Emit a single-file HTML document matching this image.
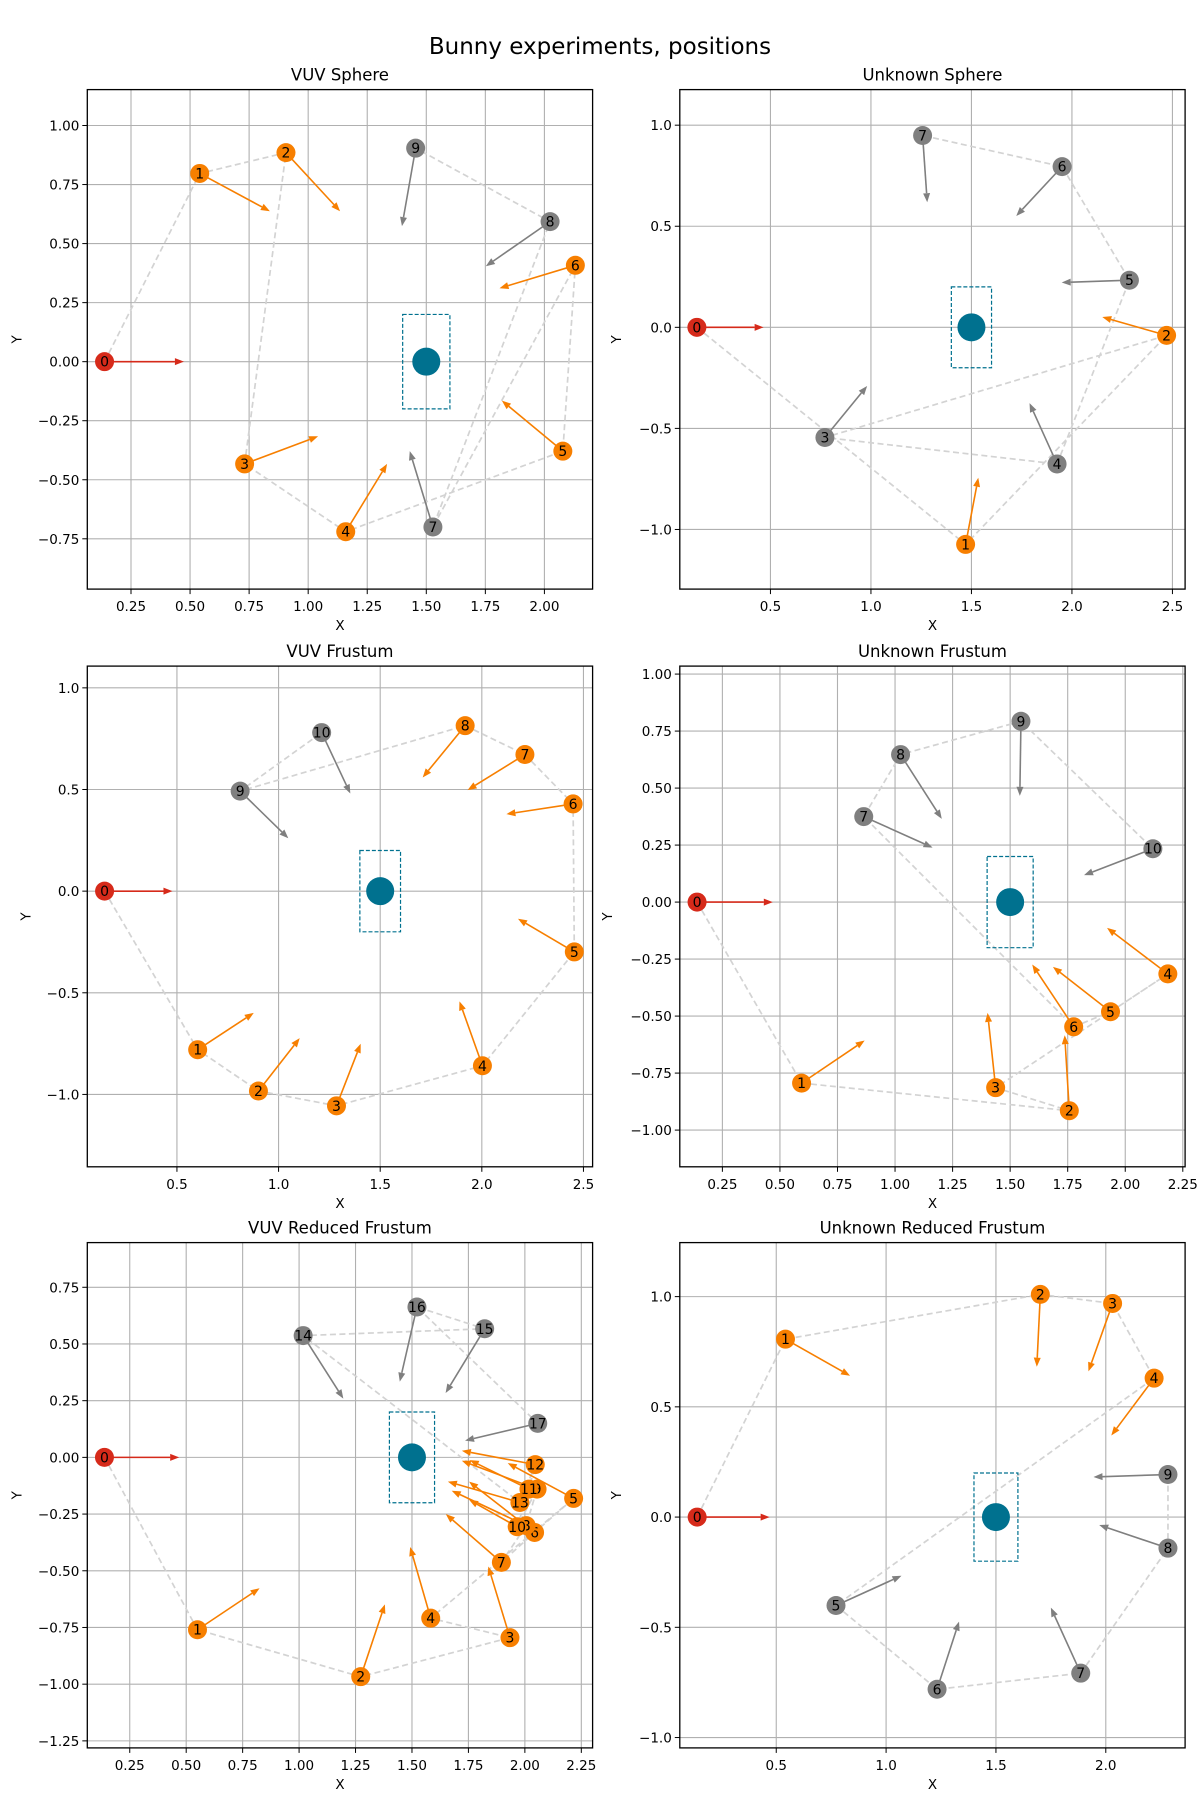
<!DOCTYPE html>
<html><head><meta charset="utf-8"><style>
html,body{margin:0;padding:0;background:#fff;}
svg{display:block;font-family:"DejaVu Sans","Liberation Sans",sans-serif;}
</style></head><body>
<svg id="fig" width="1200" height="1800" viewBox="0 0 1200 1800">
<rect width="1200" height="1800" fill="#fff"/>
<text x="600" y="54" text-anchor="middle" font-size="23">Bunny experiments, positions</text>
</svg>
<script>
// Panel 1: VUV Sphere
const p1X=[0.138,0.541,0.906,0.731,1.159,2.078,2.131,1.528,2.024,1.455];
const p1Y=[0,0.797,0.885,-0.433,-0.72,-0.379,0.408,-0.70,0.593,0.904];
const p1EX=[0.474,0.838,1.135,1.042,1.334,1.82,1.81,1.43,1.752,1.397];
const p1EY=[0,0.637,0.637,-0.316,-0.433,-0.165,0.311,-0.379,0.404,0.574];
const p1Orange=6;
// Panel 2: Unknown Sphere
const p2X=[0.134,1.471,2.471,0.771,1.926,2.286,1.951,1.257];
const p2Y=[0,-1.074,-0.04,-0.545,-0.676,0.233,0.795,0.949];
const p2EX=[0.466,1.534,2.151,0.981,1.789,1.949,1.723,1.28];
const p2EY=[0,-0.744,0.051,-0.29,-0.375,0.222,0.551,0.619];
const p2Orange=2;
// Panel 3: VUV Frustum
const p3X=[0.144,0.602,0.901,1.285,2.003,2.455,2.449,2.212,1.918,0.811,1.212];
const p3Y=[0,-0.78,-0.983,-1.056,-0.859,-0.299,0.429,0.672,0.814,0.492,0.78];
const p3EX=[0.478,0.878,1.104,1.404,1.89,2.178,2.121,1.93,1.709,1.048,1.353];
const p3EY=[0,-0.599,-0.723,-0.751,-0.542,-0.136,0.379,0.497,0.559,0.26,0.48];
const p3Orange=8;
// Panel 4: Unknown Frustum
const p4X=[0.14,0.594,1.757,1.437,2.185,1.936,1.776,0.864,1.024,1.547,2.12];
const p4Y=[0,-0.794,-0.915,-0.814,-0.315,-0.481,-0.547,0.375,0.647,0.793,0.234];
const p4EX=[0.469,0.868,1.737,1.402,1.921,1.686,1.596,1.163,1.203,1.542,1.821];
const p4EY=[0,-0.607,-0.584,-0.486,-0.113,-0.284,-0.274,0.239,0.365,0.466,0.118];
const p4Orange=6;
// Panel 5: VUV Reduced Frustum
const p5X=[0.138,0.55,1.273,1.934,1.583,2.216,2.043,1.896,2.006,2.054,1.966,2.018,2.046,1.978,1.018,1.822,1.522,2.057];
const p5Y=[0,-0.76,-0.967,-0.795,-0.709,-0.181,-0.331,-0.463,-0.301,-0.14,-0.306,-0.14,-0.032,-0.199,0.537,0.567,0.663,0.15];
const p5EX=[0.469,0.825,1.38,1.838,1.492,1.924,1.753,1.65,1.676,1.721,1.753,1.756,1.721,1.659,1.196,1.649,1.446,1.735];
const p5EY=[0,-0.577,-0.648,-0.481,-0.395,-0.025,-0.107,-0.25,-0.147,-0.015,-0.187,-0.012,0.029,-0.107,0.259,0.284,0.334,0.074];
const p5Orange=13;
// Panel 6: Unknown Reduced Frustum
const p6X=[0.14,0.542,1.702,2.031,2.22,0.772,1.232,1.886,2.283,2.283];
const p6Y=[0,0.807,1.01,0.969,0.63,-0.401,-0.781,-0.708,-0.141,0.193];
const p6EX=[0.47,0.836,1.686,1.921,2.025,1.07,1.332,1.75,1.97,1.944];
const p6EY=[0,0.641,0.682,0.661,0.37,-0.266,-0.474,-0.411,-0.036,0.182];
const p6Orange=4;

const NS="http://www.w3.org/2000/svg";
const svg=document.getElementById('fig');
function mk(tag,attrs,parent){const e=document.createElementNS(NS,tag);for(const k in attrs)e.setAttribute(k,attrs[k]);(parent||svg).appendChild(e);return e;}
const COL=[[87.3,592.6],[679.8,1185.1]];
const ROW=[[89.6,589.1],[666.1,1166.8],[1242.6,1747.9]];
const panels=[
 {t:'VUV Sphere',c:0,r:0,xl:[0.065,2.204],yl:[-0.963,1.152],xt:[0.25,2.0,0.25,2],yt:[-0.75,1.0,0.25,2],yo:66,X:p1X,Y:p1Y,EX:p1EX,EY:p1EY,o:p1Orange},
 {t:'Unknown Sphere',c:1,r:0,xl:[0.049,2.563],yl:[-1.295,1.176],xt:[0.5,2.5,0.5,1],yt:[-1.0,1.0,0.5,1],yo:59,X:p2X,Y:p2Y,EX:p2EX,EY:p2EY,o:p2Orange},
 {t:'VUV Frustum',c:0,r:1,xl:[0.059,2.545],yl:[-1.356,1.107],xt:[0.5,2.5,0.5,1],yt:[-1.0,1.0,0.5,1],yo:57,X:p3X,Y:p3Y,EX:p3EX,EY:p3EY,o:p3Orange},
 {t:'Unknown Frustum',c:1,r:1,xl:[0.065,2.26],yl:[-1.161,1.035],xt:[0.25,2.25,0.25,2],yt:[-1.0,1.0,0.25,2],yo:68,X:p4X,Y:p4Y,EX:p4EX,EY:p4EY,o:p4Orange},
 {t:'VUV Reduced Frustum',c:0,r:2,xl:[0.062,2.3],yl:[-1.281,0.947],xt:[0.25,2.25,0.25,2],yt:[-1.25,0.75,0.25,2],yo:66,X:p5X,Y:p5Y,EX:p5EX,EY:p5EY,o:p5Orange},
 {t:'Unknown Reduced Frustum',c:1,r:2,xl:[0.061,2.361],yl:[-1.047,1.245],xt:[0.5,2.0,0.5,1],yt:[-1.0,1.0,0.5,1],yo:59,X:p6X,Y:p6Y,EX:p6EX,EY:p6EY,o:p6Orange}
];
const ORANGE='#f77f00',RED='#d62a1a',GRAY='#7f7f7f',TEAL='#00718f';
function fmt(v,d){const s=Math.abs(v).toFixed(d);return (v<-1e-9?'\u2212':'')+s;}
panels.forEach((p,pi)=>{
 const L=COL[p.c][0],R=COL[p.c][1],T=ROW[p.r][0],B=ROW[p.r][1];
 const sx=v=>L+(v-p.xl[0])/(p.xl[1]-p.xl[0])*(R-L);
 const sy=v=>B-(v-p.yl[0])/(p.yl[1]-p.yl[0])*(B-T);
 const g=mk('g',{});
 
 
 const tt=mk('text',{x:(L+R)/2,y:T-9,'text-anchor':'middle','font-size':16.5},g);tt.textContent=p.t;
 
 
 // grid + ticks
 for(let v=p.xt[0];v<=p.xt[1]+1e-9;v+=p.xt[2]){
  const x=sx(v);
  const gl=mk('line',{x1:x,x2:x,y1:T,y2:B,stroke:'#b0b0b0','stroke-width':1.1},g);
  
  
  mk('line',{x1:x,x2:x,y1:B,y2:B+5,stroke:'#000','stroke-width':1},g);
  const tl=mk('text',{x:x,y:B+22,'text-anchor':'middle','font-size':13.5},g);tl.textContent=fmt(v,p.xt[3]);
  
  
 }
 for(let v=p.yt[0];v<=p.yt[1]+1e-9;v+=p.yt[2]){
  const y=sy(v);
  const gl=mk('line',{x1:L,x2:R,y1:y,y2:y,stroke:'#b0b0b0','stroke-width':1.1},g);
  
  
  mk('line',{x1:L-5,x2:L,y1:y,y2:y,stroke:'#000','stroke-width':1},g);
  const tl=mk('text',{x:L-8,y:y+5,'text-anchor':'end','font-size':13.5},g);tl.textContent=fmt(v,p.yt[3]);
  
  
 }
 const xlab=mk('text',{x:(L+R)/2,y:B+41,'text-anchor':'middle','font-size':13.5},g);xlab.textContent='X';
 
 
 const yx=L-p.yo;
 const ylab=mk('text',{x:yx,y:(T+B)/2,'text-anchor':'middle','font-size':13.5,transform:`rotate(-90 ${yx} ${(T+B)/2})`},g);ylab.textContent='Y';
 
 
 // path
 let d='';p.X.forEach((v,i)=>{d+=(i?'L':'M')+sx(v)+' '+sy(p.Y[i]);});
 const path=mk('path',{d:d,fill:'none',stroke:'#d3d3d3','stroke-width':1.7,'stroke-dasharray':'6,3.5'},g);
 
 
 // target
 const tr=mk('rect',{x:sx(1.4),y:sy(0.2),width:sx(1.6)-sx(1.4),height:sy(-0.2)-sy(0.2),fill:'none',stroke:TEAL,'stroke-width':1.2,'stroke-dasharray':'4,2'},g);
 
 
 const tc=mk('circle',{cx:sx(1.5),cy:sy(0),r:14,fill:TEAL},g);
 
 
 // arrows
 p.X.forEach((v,i)=>{
  const col=i===0?RED:(i<=p.o?ORANGE:GRAY);
  const x1=sx(v),y1=sy(p.Y[i]),x2=sx(p.EX[i]),y2=sy(p.EY[i]);
  const dx=x2-x1,dy=y2-y1,len=Math.hypot(dx,dy)||1,ux=dx/len,uy=dy/len;
  const hl=9,hw=3.5,bx=x2-ux*hl,by=y2-uy*hl;
  const a=mk('g',{},g);
  
  
  mk('line',{x1:x1,y1:y1,x2:bx,y2:by,stroke:col,'stroke-width':1.6},a);
  mk('polygon',{points:`${x2},${y2} ${bx-uy*hw},${by+ux*hw} ${bx+uy*hw},${by-ux*hw}`,fill:col},a);
 });
 // markers
 p.X.forEach((v,i)=>{
  const col=i===0?RED:(i<=p.o?ORANGE:GRAY);
  const mg=mk('g',{},g);
  
  
  mk('circle',{cx:sx(v),cy:sy(p.Y[i]),r:9.5,fill:col},mg);
  const t=mk('text',{x:sx(v),y:sy(p.Y[i])+5,'text-anchor':'middle','font-size':14,fill:'#000'},mg);t.textContent=i;
 });
 const fr=mk('rect',{x:L,y:T,width:R-L,height:B-T,fill:'none',stroke:'#000','stroke-width':1.3},g);
 
 
});
</script>
</body></html>
